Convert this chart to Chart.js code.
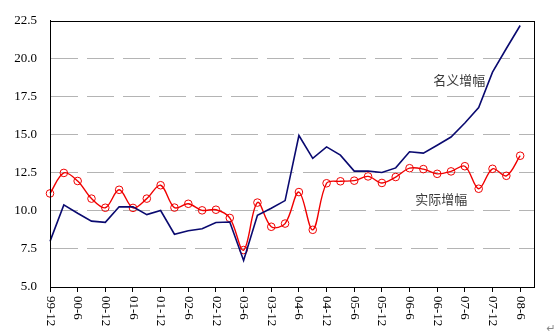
<!DOCTYPE html>
<html>
<head>
<meta charset="utf-8">
<script src="https://cdn.jsdelivr.net/npm/chart.js@4/dist/chart.umd.min.js"></script>
<style>
  html, body { margin: 0; padding: 0; background: #fff; }
  #wrap { position: relative; width: 557px; height: 334px; }
</style>
</head>
<body>
<div id="wrap"><canvas id="chart" width="557" height="334"></canvas></div>
<script>
// quarters, 99-12 .. 08-6 (last slot is empty padding on the right)
var quarters = ['99-12',
    '00-3', '00-6', '00-9', '00-12',
    '01-3', '01-6', '01-9', '01-12',
    '02-3', '02-6', '02-9', '02-12',
    '03-3', '03-6', '03-9', '03-12',
    '04-3', '04-6', '04-9', '04-12',
    '05-3', '05-6', '05-9', '05-12',
    '06-3', '06-6', '06-9', '06-12',
    '07-3', '07-6', '07-9', '07-12',
    '08-3', '08-6', ''];

// 名义增幅 (nominal)
var nominal = [8.0, 10.4, 9.85, 9.33, 9.25, 10.27, 10.27, 9.76, 10.03,
    8.47, 8.7, 8.83, 9.24, 9.27, 6.74, 9.71, 10.18,
    10.68, 14.96, 13.46, 14.21, 13.67, 12.62, 12.62, 12.53,
    12.83, 13.89, 13.8, 14.32, 14.86, 15.78, 16.79, 19.12,
    20.68, 22.19, null];

// 实际增幅 (real)
var real = [11.15, 12.5, 11.97, 10.81, 10.21, 11.39, 10.2, 10.81, 11.69,
    10.22, 10.47, 10.04, 10.08, 9.54, 7.43, 10.55, 8.96,
    9.17, 11.24, 8.76, 11.82, 11.95, 11.99, 12.27, 11.84,
    12.23, 12.81, 12.75, 12.44, 12.6, 12.94, 11.46, 12.77,
    12.31, 13.63, null];

var yTicks = [5.0, 7.5, 10.0, 12.5, 15.0, 17.5, 20.0, 22.5];

// series name labels, placed in data coordinates [category index, value]
var seriesNames = ['名义增幅', '实际增幅'];
var nameAnchors = [[29.6, 18.6], [28.3, 10.8]];

var serif = "'Liberation Serif', 'Times New Roman', serif";

// frame round the plot + rotated category labels + series names
var decorPlugin = {
    id: 'decor',
    afterDraw: function(chart) {
        var ctx = chart.ctx;
        var a = chart.chartArea;
        var xs = chart.scales.x, ys = chart.scales.y;
        ctx.save();
        ctx.setLineDash([]);
        ctx.strokeStyle = '#000';
        ctx.lineWidth = 1;
        ctx.strokeRect(Math.round(a.left) + 0.5, Math.round(a.top) + 0.5,
            Math.round(a.right - a.left), Math.round(a.bottom - a.top));

        // x labels read top to bottom
        ctx.fillStyle = '#000';
        ctx.font = '13px ' + serif;
        ctx.textAlign = 'left';
        ctx.textBaseline = 'middle';
        quarters.forEach(function(q, i) {
            if (i % 2 !== 0 || !q) return;
            ctx.save();
            ctx.translate(xs.getPixelForTick(i), a.bottom + 9);
            ctx.rotate(Math.PI / 2);
            ctx.fillText(q, 0, 0);
            ctx.restore();
        });

        ctx.font = "13px 'Noto Sans CJK SC', sans-serif";
        ctx.fillStyle = '#3a3a3a';
        ctx.textAlign = 'center';
        seriesNames.forEach(function(n, i) {
            ctx.fillText(n, xs.getPixelForValue(nameAnchors[i][0]), ys.getPixelForValue(nameAnchors[i][1]));
        });

        ctx.font = "11px 'DejaVu Sans', sans-serif";
        ctx.fillStyle = '#888';
        ctx.fillText('↵', 551, 329);
        ctx.restore();
    }
};

new Chart(document.getElementById('chart'), {
    type: 'line',
    data: {
        labels: quarters,
        datasets: [{
            label: '名义增幅',
            data: nominal,
            borderColor: '#0a0a70',
            borderWidth: 1.6,
            pointRadius: 0,
            tension: 0,
            fill: false
        }, {
            label: '实际增幅',
            data: real,
            borderColor: '#f00000',
            borderWidth: 1.4,
            pointRadius: 3.8,
            pointBorderWidth: 1,
            pointBorderColor: '#f00000',
            pointBackgroundColor: 'rgba(0,0,0,0)',
            tension: 0.35,
            fill: false
        }]
    },
    options: {
        responsive: false,
        animation: false,
        devicePixelRatio: 1,
        layout: { padding: { left: 0, right: 23, top: 16, bottom: 0 } },
        plugins: { legend: { display: false }, tooltip: { enabled: false } },
        scales: {
            x: {
                type: 'category',
                offset: false,
                afterFit: function(s) { s.height = 47; },
                border: { display: true, color: '#000', width: 1 },
                grid: {
                    drawOnChartArea: false,
                    drawTicks: true,
                    tickLength: 5,
                    color: function(c) { return (c.index % 2 === 0 && c.index < 35) ? '#000' : 'rgba(0,0,0,0)'; }
                },
                ticks: { display: false, autoSkip: false }
            },
            y: {
                min: 5,
                max: 22.5,
                afterFit: function(s) { s.width = 50; },
                afterBuildTicks: function(s) { s.ticks = yTicks.map(function(v) { return { value: v }; }); },
                border: { display: true, color: '#000', width: 1, dash: [27, 9] },
                grid: {
                    drawTicks: false,
                    color: function(c) { return (c.tick && (c.tick.value === 5 || c.tick.value === 22.5)) ? 'rgba(0,0,0,0)' : '#b4b4b4'; },
                    lineWidth: 1
                },
                ticks: {
                    color: '#000',
                    padding: 13,
                    font: { family: serif, size: 13 },
                    callback: function(v) { return Number(v).toFixed(1); }
                }
            }
        }
    },
    plugins: [decorPlugin]
});
</script>
</body>
</html>
